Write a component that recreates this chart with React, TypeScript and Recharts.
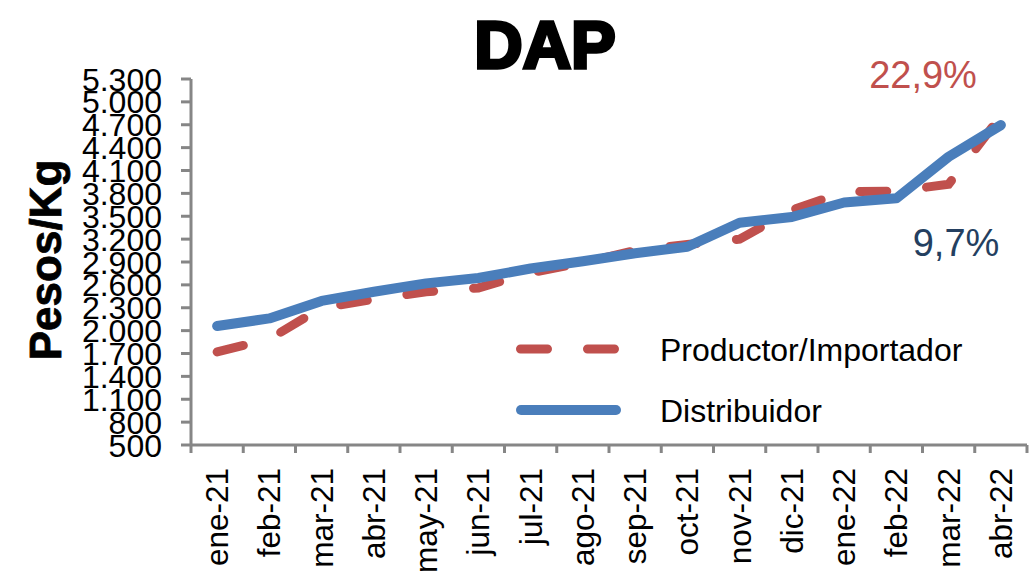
import { LineChart, Line, XAxis, YAxis, Legend } from "recharts";

const MONTHS = [
  "ene-21", "feb-21", "mar-21", "abr-21", "may-21", "jun-21", "jul-21", "ago-21",
  "sep-21", "oct-21", "nov-21", "dic-21", "ene-22", "feb-22", "mar-22", "abr-22",
];
const PRODUCTOR = [1720, 1890, 2300, 2410, 2510, 2560, 2760, 2890, 3050, 3130, 3200, 3580, 3820, 3830, 3920, 4815];
const DISTRIBUIDOR = [2060, 2160, 2390, 2510, 2620, 2690, 2815, 2910, 3015, 3100, 3415, 3490, 3680, 3735, 4280, 4695];
const Y_TICKS = [500, 800, 1100, 1400, 1700, 2000, 2300, 2600, 2900, 3200, 3500, 3800, 4100, 4400, 4700, 5000, 5300];

const RED = "#C0504D";
const BLUE = "#4A7EBB";
const AXIS = "#868686";
const FONT = "'Liberation Sans', Arial, sans-serif";

const W = 1030;
const H = 579;
const LEFT = 191;
const RIGHT = 1027;
const BAND = (RIGHT - LEFT) / MONTHS.length;

const data = MONTHS.map((m, i) => ({
  idx: i + 0.5,
  month: m,
  productor: PRODUCTOR[i],
  distribuidor: DISTRIBUIDOR[i],
}));

const fmt = (v: number) => String(v).replace(/\B(?=(\d{3})+(?!\d))/g, ".");

function XTick(props: any) {
  const { x, y, payload } = props;
  const i = payload.value as number;
  return (
    <g>
      <line x1={x} y1={y} x2={x} y2={y + 8} stroke={AXIS} strokeWidth={3} />
      {i < MONTHS.length && (
        <text
          x={x + BAND / 2}
          y={y + 23}
          transform={`rotate(-90, ${x + BAND / 2}, ${y + 23})`}
          textAnchor="end"
          dy="0.35em"
          fontSize={31.5}
          fill="#000"
        >
          {MONTHS[i]}
        </text>
      )}
    </g>
  );
}

function YTick(props: any) {
  const { x, y, payload } = props;
  return (
    <g>
      <line x1={x - 10} y1={y} x2={x} y2={y} stroke={AXIS} strokeWidth={3} />
      <text x={x - 29} y={y} dy="0.36em" textAnchor="end" fontSize={32} fill="#000">
        {fmt(payload.value)}
      </text>
    </g>
  );
}

function LegendBox() {
  return (
    <svg width={520} height={120} style={{ display: "block" }}>
      <line x1={14.5} y1={29} x2={110.5} y2={29} stroke={RED} strokeWidth={9} strokeDasharray="27 40" strokeLinecap="round" />
      <text x={154} y={29} dy="0.36em" fontSize={32} fill="#000">Productor/Importador</text>
      <line x1={15} y1={90} x2={110} y2={90} stroke={BLUE} strokeWidth={10} strokeLinecap="round" />
      <text x={154} y={90} dy="0.36em" fontSize={32} fill="#000">Distribuidor</text>
    </svg>
  );
}

export default function App() {
  return (
    <div style={{ position: "absolute", left: 0, top: 0, width: W, height: H, background: "#fff", fontFamily: FONT }}>
      <LineChart
        width={W}
        height={H}
        data={data}
        margin={{ top: 79, right: W - RIGHT, bottom: 0, left: LEFT - 150 }}
        style={{ fontFamily: FONT }}
      >
        <XAxis
          type="number"
          dataKey="idx"
          domain={[0, MONTHS.length]}
          ticks={MONTHS.map((_, i) => i).concat(MONTHS.length)}
          interval={0}
          height={134}
          tickSize={0}
          tickMargin={0}
          tickLine={false}
          tick={<XTick />}
          axisLine={{ stroke: AXIS, strokeWidth: 3 }}
        />
        <YAxis
          type="number"
          domain={[500, 5300]}
          ticks={Y_TICKS}
          interval={0}
          width={150}
          tickSize={0}
          tickMargin={0}
          tickLine={false}
          tick={<YTick />}
          axisLine={{ stroke: AXIS, strokeWidth: 3 }}
        />
        <Legend
          layout="vertical"
          align="center"
          verticalAlign="middle"
          content={() => <LegendBox />}
          wrapperStyle={{ left: 506, top: 320, width: 520 }}
        />
        <Line
          type="linear"
          dataKey="productor"
          name="Productor/Importador"
          stroke={RED}
          strokeWidth={9}
          strokeDasharray="27 40"
          strokeLinecap="round"
          dot={false}
          activeDot={false}
          isAnimationActive={false}
        />
        <Line
          type="linear"
          dataKey="distribuidor"
          name="Distribuidor"
          stroke={BLUE}
          strokeWidth={10}
          strokeLinecap="round"
          strokeLinejoin="round"
          dot={false}
          activeDot={false}
          isAnimationActive={false}
        />
      </LineChart>
      <svg width={W} height={H} style={{ position: "absolute", left: 0, top: 0, pointerEvents: "none" }}>
        <text x={545} y={68} textAnchor="middle" fontSize={67} fontWeight="bold" fill="#000" stroke="#000" strokeWidth={3.5}>
          DAP
        </text>
        <text x={923} y={88} textAnchor="middle" fontSize={38} fill={RED}>22,9%</text>
        <text x={956} y={256} textAnchor="middle" fontSize={38} fill="#243F60">9,7%</text>
        <text
          x={45}
          y={260}
          transform="rotate(-90, 45, 260)"
          textAnchor="middle"
          dy="0.36em"
          fontSize={44}
          fontWeight="bold"
          fill="#000"
          stroke="#000"
          strokeWidth={0.8}
        >
          Pesos/Kg
        </text>
      </svg>
    </div>
  );
}
